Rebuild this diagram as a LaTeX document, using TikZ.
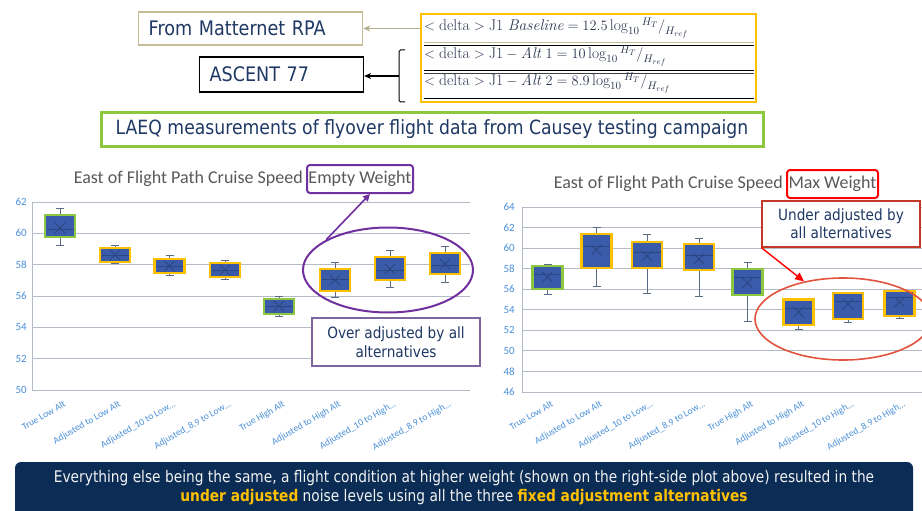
\documentclass[tikz,border=0pt]{standalone}
\usepackage{fontspec}
\usetikzlibrary{arrows.meta,shapes.geometric}
\newfontfamily\tahfont[FakeStretch=0.88]{DejaVu Sans}
\newfontfamily\calfont{Carlito}
\newfontfamily\banfont[FakeStretch=0.86]{DejaVu Sans}
\definecolor{navy}{HTML}{1F3864}
\definecolor{eqcol}{HTML}{2A3650}
\definecolor{tanc}{HTML}{C4BD97}
\definecolor{tanarr}{HTML}{B5AE8A}
\definecolor{gold}{HTML}{FFC000}
\definecolor{leaf}{HTML}{8DC63F}
\definecolor{violet}{HTML}{7030A0}
\definecolor{mauve}{HTML}{7F659E}
\definecolor{redc}{HTML}{FF0000}
\definecolor{ovalred}{HTML}{E2533F}
\definecolor{darkred}{HTML}{C0392B}
\definecolor{gridc}{HTML}{B3BBC7}
\definecolor{tickc}{HTML}{4A90D9}
\definecolor{titlec}{HTML}{595959}
\definecolor{boxblue}{HTML}{3A5BA9}
\definecolor{boxline}{HTML}{2C4682}
\definecolor{whisc}{HTML}{5B6B85}
\definecolor{banner}{HTML}{0B2D55}

% box plot: centre x, whisker top, box top, median, mean, box bottom, whisker bottom, frame colour
\newcommand\bplot[8]{%
  \draw[whisk] (#1,#2) -- (#1,#7);
  \draw[whisk] (#1-4,#2) -- (#1+4,#2);
  \draw[whisk] (#1-4,#7) -- (#1+4,#7);
  \draw[fill=boxblue, draw=#8, line width=2.6] (#1-15,#3) rectangle (#1+15,#6);
  \draw[boxline, line width=0.6] (#1-13.5,#4) -- (#1+13.5,#4);
  \draw[boxline, line width=0.8] (#1-5,#5-5) -- (#1+5,#5+5) (#1-5,#5+5) -- (#1+5,#5-5);
}
% height ratio written as a slanted fraction
\newcommand\hratio{{}^{H_T}\big/_{H_{ref}}}

\begin{document}
\begin{tikzpicture}[x=1pt,y=-1pt,
  whisk/.style={draw=whisc, line width=0.8},
  grid/.style={draw=gridc, line width=1},
  ytick/.style={text=tickc, font=\calfont\fontsize{11}{12}\selectfont, inner sep=0, anchor=east},
  xtick/.style={text=tickc, font=\calfont\fontsize{9.6}{11}\selectfont, inner sep=0, rotate=30, anchor=north east},
  ctitle/.style={text=titlec, font=\calfont\fontsize{18}{20}\selectfont, text height=12.5, text depth=3.5, inner sep=0},
  label/.style={text=navy, font=\tahfont\fontsize{20}{24}\selectfont},
  note/.style={text=navy, fill=white, align=center, inner sep=0, font=\tahfont\fontsize{15.5}{19}\selectfont},
  eqrow/.style={text=eqcol, anchor=west, inner sep=0, font=\fontsize{15.5}{18}\selectfont},
]
\useasboundingbox (0,0) rectangle (922,511);
\fill[white] (0,0) rectangle (922,511);

% ---------- top: sources and formulas ----------
\node[label, draw=tanc, line width=1.3, anchor=west, minimum height=33, text width=204, inner xsep=10, align=left] (matt) at (138,28.5) {From Matternet RPA};
\node[label, draw=black, line width=1.1, anchor=west, minimum height=35, text width=144, inner xsep=10, align=left] (asc) at (199,74.5) {ASCENT 77};

\node[draw=gold, line width=2.6, fill=white, minimum width=335, minimum height=88, inner sep=0] (eqbox) at (588.5,58) {};
\draw[tanc, line width=0.9] (424,42) -- (754,42);
\draw[black, line width=0.9] (424,45.5) -- (754,45.5);
\draw[black, line width=0.9] (424,70) -- (754,70);
\draw[black!75, line width=0.9] (424,73) -- (754,73);
\draw[black, line width=0.9] (424,98) -- (754,98);
\node[eqrow] (rowA) at (424,28) {$<\mathrm{delta}>\mathrm{J1}\ \mathit{Baseline}=12.5\log_{10}\hratio$};
\node[eqrow] (rowB) at (424,56) {$<\mathrm{delta}>\mathrm{J1}-\mathit{Alt}\ 1=10\log_{10}\hratio$};
\node[eqrow] (rowC) at (424,83) {$<\mathrm{delta}>\mathrm{J1}-\mathit{Alt}\ 2=8.9\log_{10}\hratio$};

\draw[tanarr, line width=1.6, -{Stealth[length=7pt,width=6pt]}] (eqbox.west |- matt.east) -- (matt.east);
\draw[black, line width=1, rounded corners=1.5pt] (405,50) -- (399,50) -- (399,102) -- (405,102);
\coordinate (brace) at (399,76);
\draw[black, line width=1.3, -{Stealth[length=7pt,width=6pt]}] (brace) -- (brace -| asc.east);

\node[draw=leaf, line width=3, minimum width=662, minimum height=33, inner sep=0, text=navy, font=\tahfont\fontsize{19.6}{22}\selectfont] (laeq) at (432,129.5) {LAEQ measurements of flyover flight data from Causey testing campaign};

% ---------- left chart ----------
\node[ctitle, draw=violet, line width=2, rounded corners=3pt, minimum width=106, minimum height=28] (ew) at (360,179) {Empty Weight};
\node[ctitle, anchor=east] (ltitle) at ([xshift=-3pt]ew.west) {East of Flight Path Cruise Speed};
\foreach \v/\y in {62/202,60/233.3,58/264.7,56/296,54/327.3,52/358.7,50/390}{
  \draw[grid] (32,\y) -- (470,\y);
  \node[ytick] (lt\v) at (27,\y) {\v};
}
\draw[grid] (32,202) -- (32,390);
\foreach \c/\t [count=\i] in {60/True Low Alt,115/Adjusted to Low Alt,169.5/Adjusted\_10 to Low…,225/Adjusted\_8.9 to Low…,279/True High Alt,335/Adjusted to High Alt,390/Adjusted\_10 to High…,445/Adjusted\_8.9 to High…}{
  \node[xtick] (lx\i) at (\c+3,400) {\t};
}
\bplot{60}{208}{215}{229}{228}{237}{245}{leaf}
\bplot{115}{245}{248}{255}{255}{262}{263.5}{gold}
\bplot{169.5}{255.5}{259}{266}{266}{273}{275}{gold}
\bplot{225}{260}{263}{270}{270}{277}{279}{gold}
\bplot{279}{296}{299}{306}{306}{314}{316}{leaf}
\bplot{335}{262}{269}{279}{280}{291}{297}{gold}
\bplot{390}{250}{257}{270}{269}{280}{287}{gold}
\bplot{445}{246}{253}{265}{264}{274}{282}{gold}

\node[ellipse, draw=violet, line width=2, minimum width=170, minimum height=85, inner sep=0] (ovalA) at (388,270) {};
\draw[violet, line width=1.6, -{Triangle[length=7pt,width=7pt]}] (ovalA.154) -- ([xshift=10pt]ew.south);
\node[note, draw=mauve, line width=1.5, minimum width=168, minimum height=48] (over) at (396,342) {Over adjusted by all\\alternatives};

% ---------- right chart ----------
\node[ctitle, draw=redc, line width=2, rounded corners=3pt, minimum width=91, minimum height=28] (mw) at (832.5,184) {Max Weight};
\node[ctitle, anchor=east] (rtitle) at ([xshift=-3pt]mw.west) {East of Flight Path Cruise Speed};
\foreach \v/\y in {64/207,62/227.6,60/248.1,58/268.7,56/289.2,54/309.8,52/330.4,50/350.9,48/371.5,46/392}{
  \draw[grid] (522,\y) -- (922,\y);
  \node[ytick] (rt\v) at (515,\y) {\v};
}
\draw[grid] (522,207) -- (522,392);
\foreach \c/\t [count=\i] in {547.5/True Low Alt,596.5/Adjusted to Low Alt,647/Adjusted\_10 to Low…,699/Adjusted\_8.9 to Low…,747.5/True High Alt,798.5/Adjusted to High Alt,848/Adjusted\_10 to High…,899.5/Adjusted\_8.9 to High…}{
  \node[xtick] (rx\i) at (\c+3,400) {\t};
}
\bplot{547.5}{264}{266}{274}{277}{289}{294}{leaf}
\bplot{596.5}{227}{234}{246}{250}{268}{286}{gold}
\bplot{647}{234}{242}{252}{256}{268}{293}{gold}
\bplot{699}{238}{244}{255}{259}{270}{296}{gold}
\bplot{747.5}{262}{269}{277}{283}{295}{321}{leaf}
\bplot{798.5}{299}{299.5}{308}{312}{325}{329}{gold}
\bplot{848}{292}{293}{301}{304}{319}{322}{gold}
\bplot{899.5}{290}{291}{297}{302}{316}{318}{gold}

\node[ellipse, draw=ovalred, line width=1.6, minimum width=176, minimum height=82, inner sep=0] (ovalB) at (843,319) {};
\node[note, draw=darkred, line width=1.3, minimum width=158, minimum height=46, font=\tahfont\fontsize{15.5}{18}\selectfont] (under) at (841,224) {Under adjusted by\\all alternatives};
\draw[redc, line width=1.4, -{Triangle[length=9pt,width=8pt]}] (under.south west) -- (ovalB.136);

% ---------- bottom banner ----------
\fill[banner, rounded corners=6pt] (15,462) rectangle (913,520);
\node[text=white!95!black, align=center, inner sep=0, font=\banfont\fontsize{16}{19}\selectfont] (bantext) at (464,487.5) {Everything else being the same, a flight condition at higher weight (shown on the right-side plot above) resulted in the\\\textcolor{gold}{\bfseries under adjusted} noise levels using all the three \textcolor{gold}{\bfseries fixed adjustment alternatives}};
\end{tikzpicture}
\end{document}
